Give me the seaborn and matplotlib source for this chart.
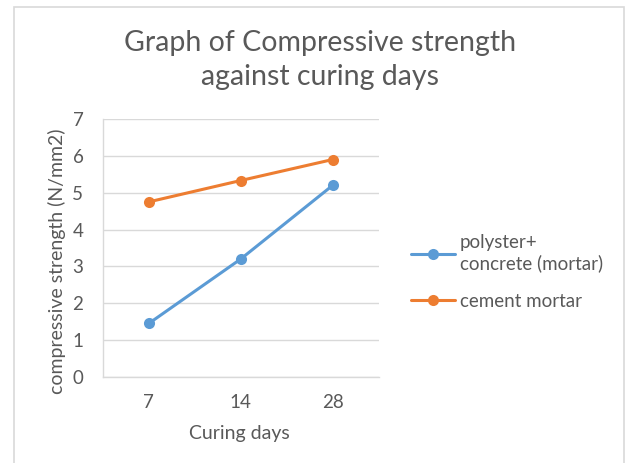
import pandas as pd
import matplotlib.pyplot as plt
import seaborn as sns

# Values
curing_days = ['7', '14', '28']
polyster_concrete = [1.45, 3.2, 5.2]
cement_mortar = [4.75, 5.33, 5.9]
series_names = ['polyster+\nconcrete (mortar)', 'cement mortar']

data = pd.DataFrame({
    'days': curing_days * 2,
    'strength': polyster_concrete + cement_mortar,
    'series': [series_names[0]] * 3 + [series_names[1]] * 3,
})

sns.set_style('white')
plt.rcParams['font.family'] = ['Lato', 'DejaVu Sans']
text_col = '#595959'
grid_col = '#D9D9D9'

fig = plt.figure(figsize=(6.27, 4.63), dpi=100)
ax = fig.add_axes([0.164, 0.186, 0.440, 0.557])

sns.lineplot(data=data, x='days', y='strength', hue='series', sort=False,
             palette=['#5B9BD5', '#ED7D31'], marker='o', markersize=8,
             markeredgewidth=0, linewidth=2.2, ax=ax)

ax.set_xlim(-0.5, 2.5)
ax.set_ylim(0, 7)
ax.set_yticks(range(0, 8))
ax.yaxis.grid(True, color=grid_col, linewidth=1)
ax.set_axisbelow(True)
for side in ['top', 'right']:
    ax.spines[side].set_visible(False)
for side in ['left', 'bottom']:
    ax.spines[side].set_color(grid_col)
    ax.spines[side].set_linewidth(1)
ax.tick_params(axis='x', length=0, labelsize=13.5, colors=text_col, pad=12)
ax.tick_params(axis='y', length=0, labelsize=13.5, colors=text_col, pad=14)

ax.set_xlabel('Curing days', fontsize=14, color=text_col)
ax.set_ylabel('compressive strength (N/mm2)', fontsize=14, color=text_col)
ax.xaxis.set_label_coords(0.496, -0.185)
ax.yaxis.set_label_coords(-0.135, 0.45)

fig.text(0.511, 0.870, 'Graph of Compressive strength\nagainst curing days',
         ha='center', va='center', fontsize=20.5, color=text_col, linespacing=1.38)

ax.legend(title=None, frameon=False, loc='center left',
          bbox_to_anchor=(0.655, 0.4125), bbox_transform=fig.transFigure,
          fontsize=13.5, labelcolor=text_col, handlelength=2.35,
          handletextpad=0.27, labelspacing=1.1, borderpad=0, borderaxespad=0)

# thin light border like the original chart frame
frame = plt.Rectangle((14 / 627, -0.01), (624 - 14) / 627, 1 - 7 / 463 + 0.01,
                      transform=fig.transFigure, fill=False,
                      edgecolor='#D9D9D9', linewidth=1.2)
fig.add_artist(frame)

plt.savefig('out.png', dpi=100)
